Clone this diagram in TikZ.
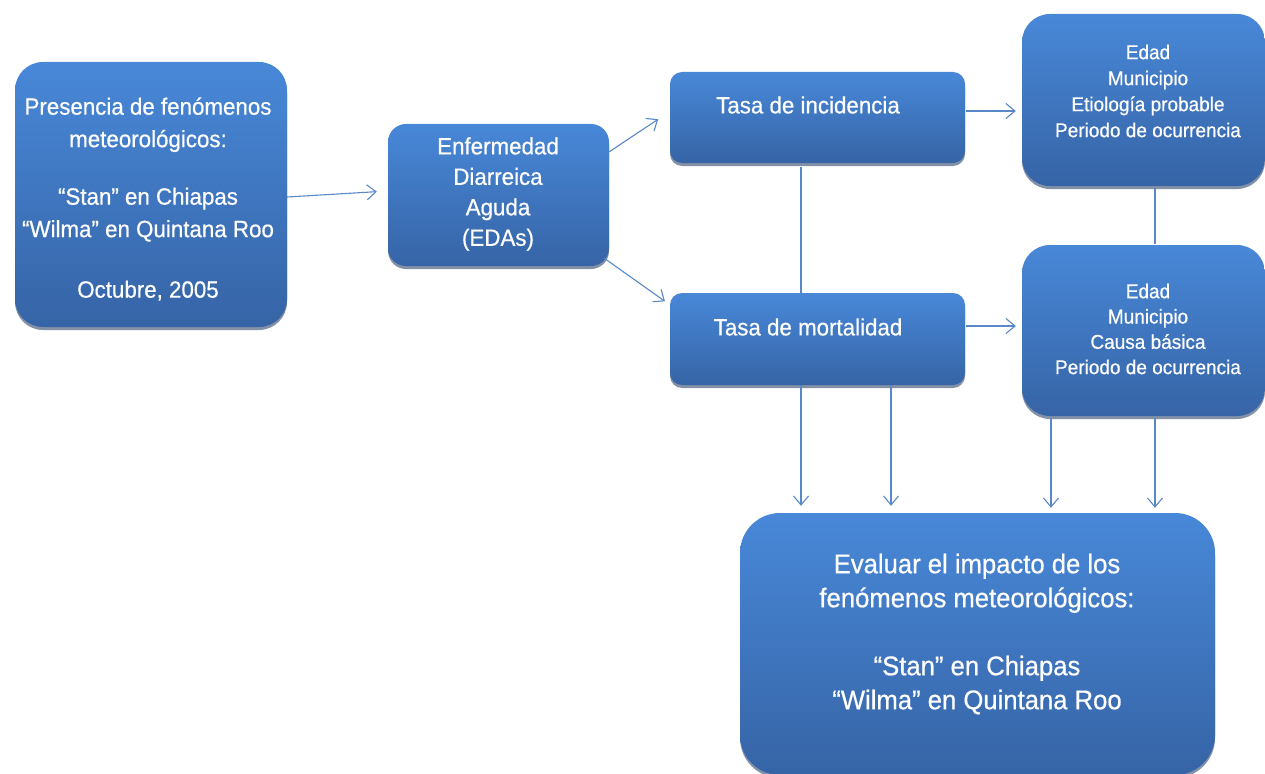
\documentclass[tikz,border=0pt]{standalone}
\usepackage{fontspec}
\setmainfont[FakeStretch=0.95,FakeBold=0.6]{Liberation Sans}
\usetikzlibrary{arrows.meta,shadows,calc}
\definecolor{boxtop}{RGB}{72,136,216}
\definecolor{boxbot}{RGB}{54,100,166}
\definecolor{linec}{RGB}{88,136,200}
\definecolor{shadowc}{RGB}{30,55,95}
\tikzset{
  box/.style={draw=none, top color=boxtop, bottom color=boxbot, inner sep=0pt,
    drop shadow={shadow xshift=0pt, shadow yshift=-3pt, fill=shadowc, opacity=0.55}},
  txt/.style={text=white, align=center, inner sep=0pt},
  conn/.style={draw=linec, line width=1.1pt},
  arr/.style={conn, -{Straight Barb[length=9pt,width=15pt,line width=1.1pt]}},
}
\begin{document}
\begin{tikzpicture}[x=1pt,y=-1pt]
\useasboundingbox[fill=white] (0,0) rectangle (1265,773);
% boxes
\node[box, rounded corners=28pt, minimum width=272pt, minimum height=265pt] (A) at (151,194.5) {};
\node[box, rounded corners=18pt, minimum width=221pt, minimum height=142pt] (B) at (498.5,195) {};
\node[box, rounded corners=12pt, minimum width=295pt, minimum height=91pt] (C) at (817.5,117.5) {};
\node[box, rounded corners=12pt, minimum width=295pt, minimum height=92pt] (D) at (817.5,339) {};
\node[box, rounded corners=28pt, minimum width=243pt, minimum height=172pt] (E) at (1143.5,100) {};
\node[box, rounded corners=28pt, minimum width=243pt, minimum height=171pt] (F) at (1143.5,330.5) {};
\node[box, rounded corners=40pt, minimum width=475pt, minimum height=262pt] (G) at (977.5,644) {};
% texts
\node[txt, font=\fontsize{23.5}{32.5}\selectfont] (tA) at (148,199)
  {Presencia de fenómenos\\meteorológicos:\\[25pt]“Stan” en Chiapas\\“Wilma” en Quintana Roo\\[28pt]Octubre, 2005};
\node[txt, font=\fontsize{23.5}{30.5}\selectfont] (tB) at (498,194)
  {Enfermedad\\Diarreica\\Aguda\\(EDAs)};
\node[txt, font=\fontsize{23.5}{26}\selectfont] (tC) at (808,105) {Tasa de incidencia};
\node[txt, font=\fontsize{23.5}{26}\selectfont] (tD) at (808,327) {Tasa de mortalidad};
\node[txt, font=\fontsize{20}{26}\selectfont] (tE) at (1148,91)
  {Edad\\Municipio\\Etiología probable\\Periodo de ocurrencia};
\node[txt, font=\fontsize{20}{25.3}\selectfont] (tF) at (1148,329)
  {Edad\\Municipio\\Causa básica\\Periodo de ocurrencia};
\node[txt, font=\fontsize{27}{34}\selectfont] (tG) at (977,634)
  {Evaluar el impacto de los\\fenómenos meteorológicos:\\[34pt]“Stan” en Chiapas\\“Wilma” en Quintana Roo};
% connectors
\draw[arr, shorten >=11pt] ([yshift=-2.5pt]A.east) -- ([yshift=4pt]B.west);
\draw[arr, shorten >=14pt] ([yshift=-28pt]B.north east) -- ([yshift=6pt]C.west);
\draw[arr, shorten >=6pt] ([xshift=-5pt,yshift=8pt]B.south east) -- ([yshift=-12pt]D.north west);
\draw[arr, shorten <=1pt, shorten >=6pt] ([yshift=6.5pt]C.east) -- ([yshift=6.5pt]C.east -| E.west);
\draw[arr, shorten <=1pt, shorten >=6pt] ([yshift=13pt]D.east) -- ([yshift=13pt]D.east -| F.west);
\draw[conn] ([xshift=-16.5pt,yshift=-4pt]C.south) -- ([xshift=-16.5pt]D.north);
\draw[conn] ([xshift=11.5pt,yshift=-2pt]E.south) -- ([xshift=11.5pt,yshift=1pt]F.north);
\draw[arr, shorten >=7pt] ([xshift=-16.5pt]D.south) -- ([xshift=-16.5pt]D.south |- G.north);
\draw[arr, shorten >=7pt] ([xshift=73.5pt]D.south) -- ([xshift=73.5pt]D.south |- G.north);
\draw[arr, shorten >=7pt] ([xshift=-92.5pt,yshift=-2pt]F.south) -- ([xshift=-92.5pt,yshift=-2pt]F.south |- G.north);
\draw[arr, shorten >=7pt] ([xshift=11.5pt,yshift=-2pt]F.south) -- ([xshift=11.5pt,yshift=-2pt]F.south |- G.north);
\end{tikzpicture}
\end{document}
